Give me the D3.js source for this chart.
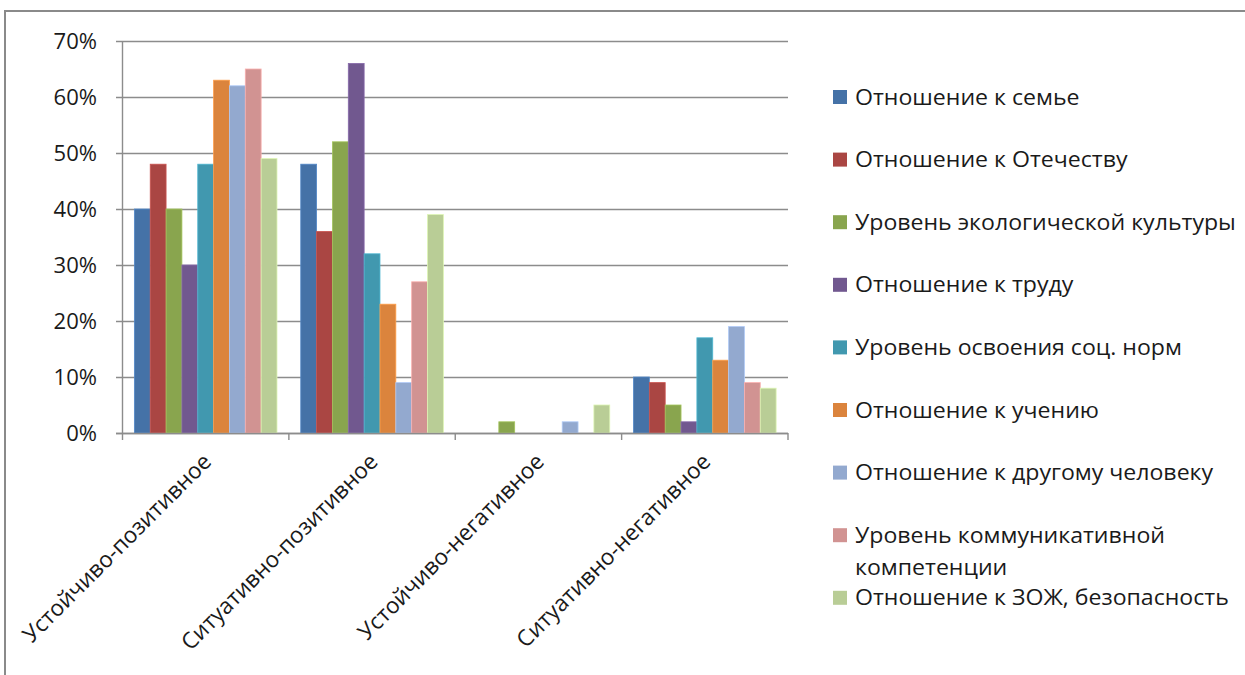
<!DOCTYPE html>
<html><head><meta charset="utf-8">
<script src="https://cdn.jsdelivr.net/npm/d3@7"></script>
<style>
html,body{margin:0;padding:0;background:#fff;}
svg text{font-family:"Open Sans",sans-serif;fill:#1a1a1a;}
</style></head>
<body><svg id="chart" width="1245" height="675"></svg>
<script>
const categories = ["Устойчиво-позитивное","Ситуативно-позитивное","Устойчиво-негативное","Ситуативно-негативное"];
const seriesNames = ["Отношение к семье","Отношение к Отечеству","Уровень экологической культуры","Отношение к труду","Уровень освоения соц. норм","Отношение к учению","Отношение к другому человеку","Уровень коммуникативной компетенции","Отношение к ЗОЖ, безопасность"];
const seriesColors = ["#4572A7","#AA4643","#89A54E","#71588F","#4198AF","#DB843D","#93A9CF","#D19392","#B9CD96"];
// values per series, across categories (fractions)
const s1 = [0.40,0.48,0.00,0.10];
const s2 = [0.48,0.36,0.00,0.09];
const s3 = [0.40,0.52,0.02,0.05];
const s4 = [0.30,0.66,0.00,0.02];
const s5 = [0.48,0.32,0.00,0.17];
const s6 = [0.63,0.23,0.00,0.13];
const s7 = [0.62,0.09,0.02,0.19];
const s8 = [0.65,0.27,0.00,0.09];
const s9 = [0.49,0.39,0.05,0.08];
const seriesValues = [s1,s2,s3,s4,s5,s6,s7,s8,s9];
const yTicks = [0,0.1,0.2,0.3,0.4,0.5,0.6,0.7];

const SX = 1.1; // horizontal text stretch for legend
const FS = 21;
const svg = d3.select("#chart");

// outer frame
svg.append("path").attr("d","M5,680 L5,11 L1250,11").attr("fill","none").attr("stroke","#8a8a8a").attr("stroke-width",2);

const x = d3.scaleBand().domain(categories).range([122.5,788]).padding(0);
const y = d3.scaleLinear().domain([0,0.7]).range([433,41]);
const bw = x.bandwidth()/(seriesNames.length+1.5);
const inner = d3.scaleBand().domain(d3.range(seriesNames.length)).range([0.75*bw, 0.75*bw+bw*seriesNames.length]).padding(0);

// gridlines
svg.append("g").selectAll("line").data(yTicks).join("line")
  .attr("x1",116).attr("x2",788).attr("y1",d=>Math.round(y(d))+0.5).attr("y2",d=>Math.round(y(d))+0.5)
  .attr("stroke","#8c8c8c").attr("stroke-width",1.4);

// y axis line
svg.append("line").attr("x1",122.5).attr("x2",122.5).attr("y1",41).attr("y2",433).attr("stroke","#8c8c8c").attr("stroke-width",1.4);
// y labels
svg.append("g").selectAll("text").data(yTicks).join("text")
  .attr("transform",d=>`translate(97,${y(d)}) scale(1.05,1)`)
  .attr("dy","0.36em").attr("text-anchor","end").attr("font-size",FS)
  .text(d=>d3.format(".0%")(d));

// bars
const g = svg.append("g");
seriesValues.forEach((vals,si)=>{
  g.append("g").selectAll("rect").data(vals.map((v,ci)=>({v,c:categories[ci]}))).join("rect")
    .attr("x",d=>x(d.c)+inner(si)).attr("width",inner.bandwidth())
    .attr("y",d=>y(d.v)).attr("height",d=>y(0)-y(d.v))
    .attr("fill",seriesColors[si])
    .attr("stroke",d3.color(seriesColors[si]).brighter(0.5)).attr("stroke-width",d=>d.v>0?0.8:0);
});

// x axis
svg.append("line").attr("x1",116).attr("x2",788).attr("y1",433.5).attr("y2",433.5).attr("stroke","#8c8c8c").attr("stroke-width",1.4);
const bounds = categories.map(c=>x(c)).concat([x.range()[1]]);
svg.append("g").selectAll("line").data(bounds).join("line")
  .attr("x1",d=>d).attr("x2",d=>d).attr("y1",433).attr("y2",440).attr("stroke","#8c8c8c").attr("stroke-width",1.4);
svg.append("g").selectAll("text").data(categories).join("text")
  .attr("transform",d=>`translate(${x(d)+x.bandwidth()/2+7},${463}) rotate(-45)`)
  .attr("text-anchor","end").attr("font-size",22.5)
  .text(d=>d);

// legend
const leg = svg.append("g");
seriesNames.forEach((name,i)=>{
  const cy = 97 + i*62.6;
  leg.append("rect").attr("x",833).attr("y",cy-7).attr("width",14).attr("height",14).attr("fill",seriesColors[i]);
  const t = leg.append("text").attr("transform",`translate(855,${cy}) scale(${SX},1)`).attr("font-size",FS);
  // word wrap
  const words = name.split(" ");
  let line = [];
  let ts = t.append("tspan").attr("x",0).attr("dy","0.36em");
  for (const w of words){
    line.push(w); ts.text(line.join(" "));
    if (ts.node().getComputedTextLength()*SX > 385 && line.length>1){
      line.pop(); ts.text(line.join(" "));
      line=[w];
      ts = t.append("tspan").attr("x",0).attr("dy","1.52em").text(w);
    }
  }
});
</script></body></html>
